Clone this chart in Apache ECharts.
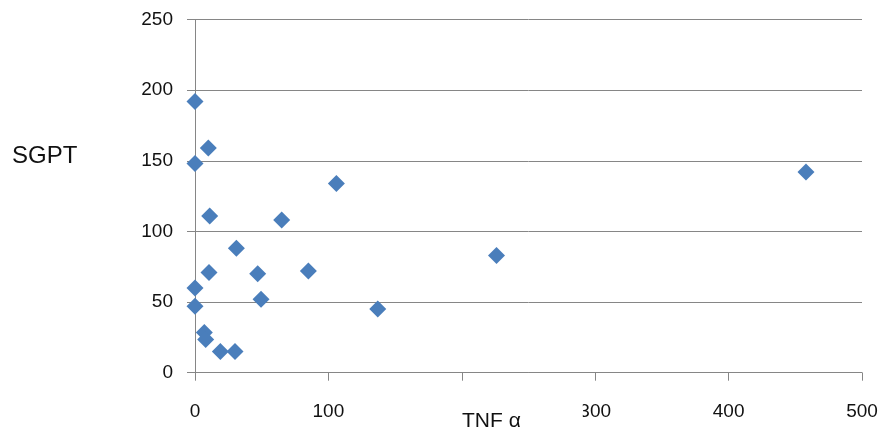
<!DOCTYPE html>
<html>
<head>
<meta charset="utf-8">
<title>SGPT vs TNF α</title>
<script src="https://cdn.jsdelivr.net/npm/echarts@6/dist/echarts.min.js"></script>
<style>
  html, body { margin: 0; padding: 0; background: #fff; }
  #chart { width: 884px; height: 430px; }
</style>
</head>
<body>
<div id="chart"></div>
<script>
// TNF α (x) and SGPT (y) for each subject
const tnfAlpha = [0, 10, 0, 106, 11, 65, 31, 10.5, 47, 85, 0, 0, 49.5, 137, 7, 8, 19, 30, 226, 458];
const sgpt     = [192, 159, 148, 134, 111, 108, 88, 71, 70, 72, 60, 47, 52, 45, 28.5, 23.5, 15, 15, 83, 142];

const xTicks = { min: 0, max: 500, step: 100 };
const yTicks = { min: 0, max: 250, step: 50 };

const xTitle = 'TNF α';
const yTitle = 'SGPT';

const points = tnfAlpha.map((x, i) => [x, sgpt[i]]);

const tickFont = "'Liberation Sans', Arial, sans-serif";
const axisGray = '#868686';

const chart = echarts.init(document.getElementById('chart'), null, { renderer: 'canvas' });
chart.setOption({
  animation: false,
  backgroundColor: '#fff',
  grid: { left: 195, right: 22, top: 19.5, bottom: 57.3, containLabel: false },
  xAxis: {
    type: 'value',
    min: xTicks.min, max: xTicks.max, interval: xTicks.step,
    axisLine: { show: true, onZero: false, lineStyle: { color: axisGray, width: 1 } },
    axisTick: { show: true, length: 8, lineStyle: { color: axisGray } },
    axisLabel: { margin: 30, fontSize: 19, color: '#111', fontFamily: tickFont },
    splitLine: { show: false }
  },
  yAxis: {
    type: 'value',
    min: yTicks.min, max: yTicks.max, interval: yTicks.step,
    axisLine: { show: true, lineStyle: { color: axisGray, width: 1 } },
    axisTick: { show: true, length: 8, lineStyle: { color: axisGray } },
    axisLabel: { margin: 22, fontSize: 19, color: '#111', fontFamily: tickFont },
    splitLine: { show: true, lineStyle: { color: axisGray, width: 1 } }
  },
  series: [{
    type: 'scatter',
    data: points,
    symbol: 'diamond',
    symbolSize: 17,
    itemStyle: { color: '#4a7ebb', opacity: 1 }
  }],
  graphic: [
    {
      type: 'text',
      z: 100,
      left: 12, top: 144,
      style: {
        text: yTitle,
        font: "24px 'Liberation Sans Narrow', 'Liberation Sans', sans-serif",
        fill: '#111'
      }
    },
    {
      type: 'text',
      z: 100,
      left: 440, top: 400,
      style: {
        text: xTitle,
        font: "21px 'Liberation Sans', Arial, sans-serif",
        fill: '#111',
        backgroundColor: '#fff',
        padding: [11, 62, 4, 22]
      }
    }
  ]
});
</script>
</body>
</html>
